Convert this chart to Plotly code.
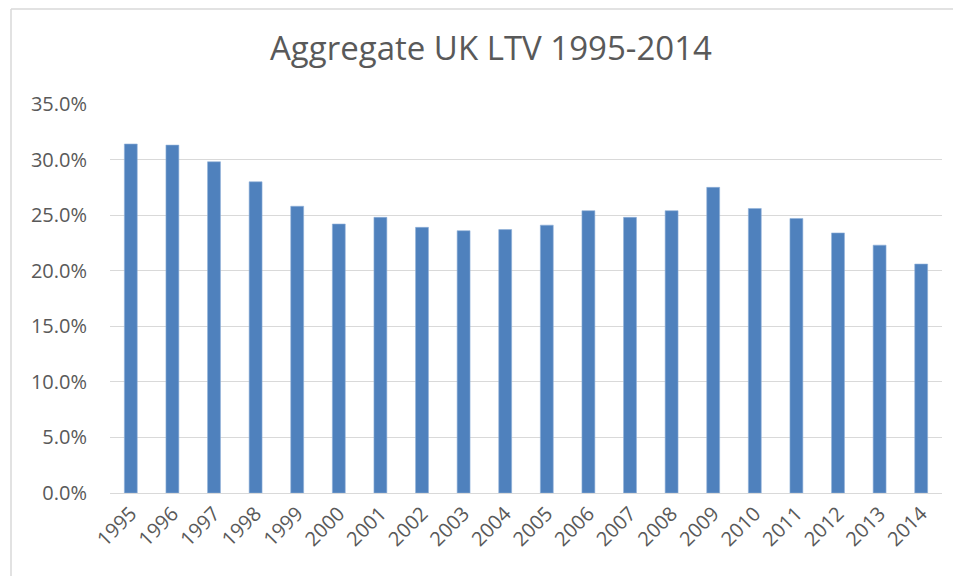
import plotly.graph_objects as go

years = ["1995", "1996", "1997", "1998", "1999", "2000", "2001", "2002", "2003", "2004",
         "2005", "2006", "2007", "2008", "2009", "2010", "2011", "2012", "2013", "2014"]
ltv = [0.314, 0.313, 0.298, 0.280, 0.258, 0.242, 0.248, 0.239, 0.236, 0.237,
       0.241, 0.254, 0.248, 0.254, 0.275, 0.256, 0.247, 0.234, 0.223, 0.206]
y_ticks = [0, 0.05, 0.10, 0.15, 0.20, 0.25, 0.30, 0.35]

# page body has an 8px margin; work in page coordinates and offset
OFF = 8
W, H = 961 - OFF, 576 - OFF
L, R, T, B = 110 - OFF, 19, 104 - OFF, 83
pw = W - L - R
ph = H - T - B

fig = go.Figure(go.Bar(
    x=years, y=ltv,
    marker=dict(color="#4F81BD", line=dict(color="#8fb0d9", width=0.6)),
))

font_family = "Open Sans, Liberation Sans, sans-serif"
fig.update_layout(
    width=W, height=H,
    margin=dict(l=L, r=R, t=T, b=B),
    paper_bgcolor="white", plot_bgcolor="white",
    bargap=0.69,
    showlegend=False,
    font=dict(family=font_family, color="#595959", size=20),
    xaxis=dict(type="category", tickangle=-45, showgrid=False, ticks="",
               showline=True, linecolor="#d9d9d9", linewidth=1, automargin=False,
               tickfont=dict(size=20, color="#595959")),
    yaxis=dict(range=[0, 0.35], tickvals=y_ticks, tickformat=".1%",
               showgrid=True, gridcolor="#d9d9d9", gridwidth=1, automargin=False,
               zeroline=False, showline=False, ticks="", ticklen=0,
               tickfont=dict(size=20, color="#595959")),
)
fig.update_yaxes(ticklabelstandoff=22)

# title centred over chart area
fig.add_annotation(
    text="Aggregate UK LTV 1995-2014",
    xref="paper", yref="paper",
    x=(491 - 110) / pw, y=1 + (104 - 47) / ph,
    xanchor="center", yanchor="middle", showarrow=False,
    font=dict(size=33, color="#595959", family=font_family),
)

# chart area border (left and top visible)
bx = (11 - 110) / pw
by = 1 + (104 - 9) / ph
fig.add_shape(type="line", xref="paper", yref="paper",
              x0=bx, x1=bx, y0=-(576 - 104) / ph, y1=by,
              line=dict(color="#d9d9d9", width=1.5))
fig.add_shape(type="line", xref="paper", yref="paper",
              x0=bx, x1=1 + (R + 5) / pw, y0=by, y1=by,
              line=dict(color="#d9d9d9", width=1.5))

fig.write_html("out.html")
